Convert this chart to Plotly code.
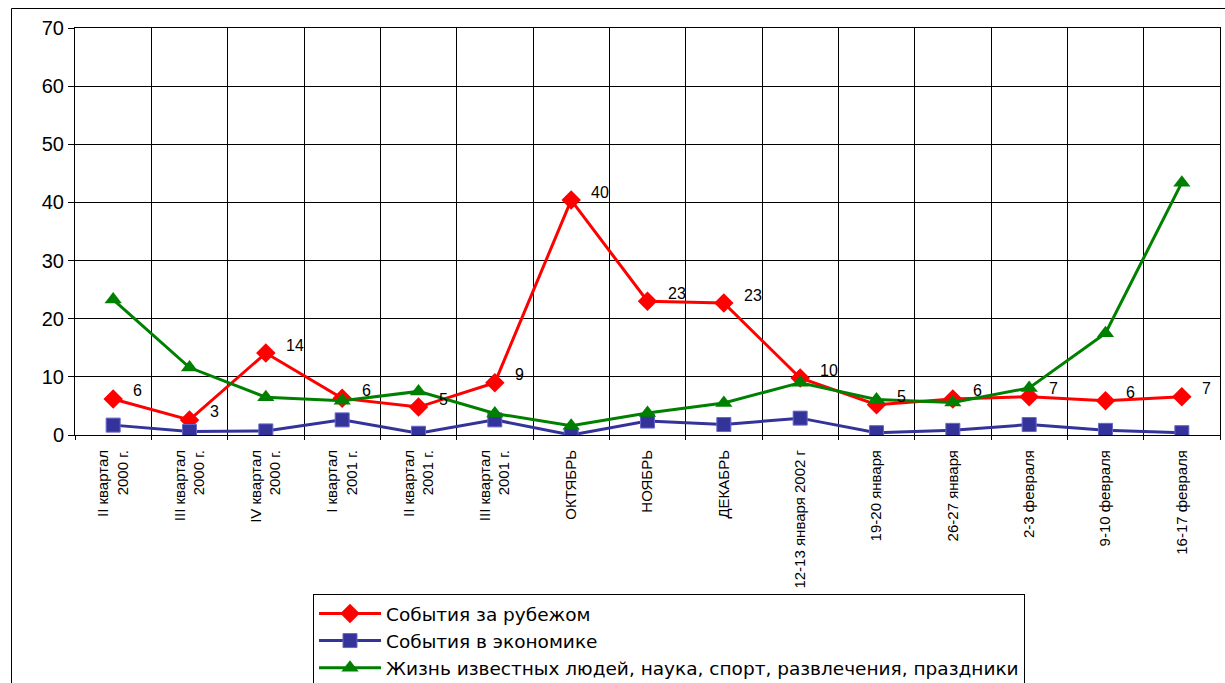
import plotly.graph_objects as go

categories = [
    "II квартал<br>2000 г.", "III квартал<br>2000 г.", "IV квартал<br>2000 г.",
    "I квартал<br>2001 г.", "II квартал<br>2001 г.", "III квартал<br>2001 г.",
    "ОКТЯБРЬ", "НОЯБРЬ", "ДЕКАБРЬ", "12-13 января 2002 г", "19-20 января",
    "26-27 января", "2-3 февраля", "9-10 февраля", "16-17 февраля",
]
abroad = [6.2, 2.6, 14.1, 6.3, 4.8, 9.0, 40.4, 23.0, 22.7, 9.8, 5.2, 6.2, 6.6, 5.9, 6.6]
economy = [1.7, 0.6, 0.7, 2.6, 0.3, 2.6, 0.0, 2.4, 1.8, 2.9, 0.4, 0.8, 1.8, 0.8, 0.4]
celebrities = [23.3, 11.6, 6.5, 5.9, 7.5, 3.7, 1.6, 3.8, 5.5, 9.0, 6.1, 5.6, 8.1, 17.5, 43.4]
abroad_labels = [str(round(v)) for v in abroad]

names = [
    "События за рубежом",
    "События в экономике",
    "Жизнь известных людей, наука, спорт, развлечения, праздники",
]

W, H = 1225, 683
ML, MT = 75, 28
PR, PB = 1220, 435
MR, MB = W - PR, H - PB
PW, PH = PR - ML, PB - MT

fig = go.Figure()
fig.add_trace(go.Scatter(
    x=categories, y=abroad, name=names[0], mode="lines+markers",
    line=dict(color="#FF0000", width=3),
    marker=dict(symbol="diamond", size=15, color="#FF0000"),
))
fig.add_trace(go.Scatter(
    x=categories, y=economy, name=names[1], mode="lines+markers",
    line=dict(color="#333399", width=3),
    marker=dict(symbol="square", size=14, color="#333399",
                line=dict(color="#6666CC", width=1)),
))
fig.add_trace(go.Scatter(
    x=categories, y=celebrities, name=names[2], mode="lines+markers",
    line=dict(color="#008000", width=3),
    marker=dict(symbol="triangle-up", size=15, color="#008000"),
))

for c, v, t in zip(categories, abroad, abroad_labels):
    fig.add_annotation(x=c, y=v, text=t, showarrow=False, xanchor="left",
                       yanchor="middle", xshift=18, yshift=8,
                       font=dict(family="Liberation Sans, Arial", size=16, color="black"))

# outer chart border
fig.add_shape(type="rect", xref="paper", yref="paper",
              x0=(11.5 - ML) / PW, x1=1.05, y0=-(MB + 20) / PH, y1=1 + (MT - 8.5) / PH,
              line=dict(color="black", width=1), fillcolor="rgba(0,0,0,0)", layer="below")

fig.update_layout(
    width=W, height=H,
    margin=dict(l=ML, r=MR, t=MT, b=MB),
    paper_bgcolor="white", plot_bgcolor="white",
    font=dict(family="Liberation Sans, Arial", color="black"),
    showlegend=True,
    legend=dict(
        xref="paper", yref="container",
        x=(313 - ML) / PW, y=1 - 594 / H, xanchor="left", yanchor="top",
        bordercolor="black", borderwidth=1, bgcolor="white",
        font=dict(family="DejaVu Sans", size=18.5, color="black"), itemwidth=62,
        tracegroupgap=0, traceorder="normal",
    ),
    xaxis=dict(
        type="category", range=[-0.5, len(categories) - 0.5],
        tickson="boundaries", ticks="outside", ticklen=4, tickcolor="black",
        ticklabelstandoff=8,
        showgrid=True, gridcolor="black", gridwidth=1,
        showline=True, linecolor="black", linewidth=1, mirror=True,
        tickangle=-90, tickfont=dict(size=15), automargin=False,
    ),
    yaxis=dict(
        range=[0, 70], dtick=10, ticks="outside", ticklen=6, tickcolor="black",
        showgrid=True, gridcolor="black", gridwidth=1,
        showline=True, linecolor="black", linewidth=1, mirror=True,
        zeroline=False, tickfont=dict(size=20), automargin=False,
    ),
)

fig.write_html("out.html", config={"displayModeBar": False},
               post_script="document.body.style.margin='0';document.body.style.overflow='hidden';")
